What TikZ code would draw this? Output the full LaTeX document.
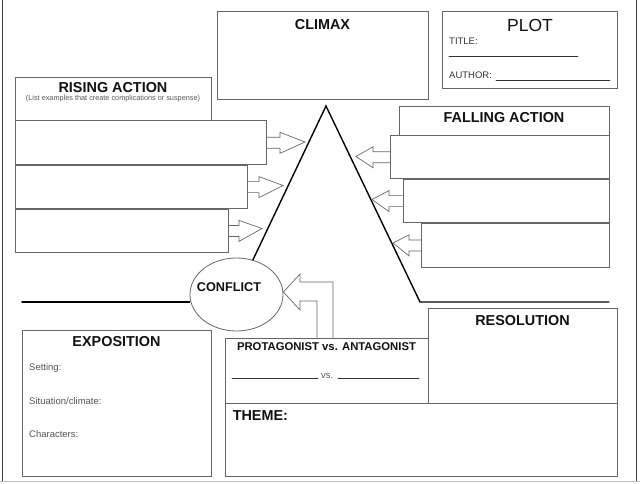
\documentclass[tikz,border=0pt]{standalone}
\usepackage{fontspec}
\setmainfont{Liberation Sans}
\usetikzlibrary{positioning,calc,shapes.geometric}

\definecolor{boxgray}{HTML}{666666}
\definecolor{labgray}{HTML}{555555}
\definecolor{inkblack}{HTML}{111111}

\tikzset{
  box/.style={draw=boxgray, line width=0.8pt, inner sep=0pt},
  hd/.style={font=\bfseries\fontsize{14.4}{16}\selectfont, text=inkblack, inner sep=0pt},
  small/.style={font=\fontsize{9.5}{11}\selectfont, text=labgray, inner sep=0pt},
  plotline/.style={line width=1.4pt, black},
  rule/.style={line width=0.6pt, black!80},
  fat arrow/.style={draw=boxgray, line width=0.7pt, line join=miter, to path={
    let \p1=(\tikztostart), \p2=(\tikztotarget), \n1={sign(\x2-\x1)} in
    (\x1,\y1+5.5pt) -- (\x2-\n1*#1pt,\y1+5.5pt) -- (\x2-\n1*#1pt,\y1+10.5pt) -- (\p2)
    -- (\x2-\n1*#1pt,\y1-10.5pt) -- (\x2-\n1*#1pt,\y1-5.5pt) -- (\x1,\y1-5.5pt)}},
}

\begin{document}
\begin{tikzpicture}[x=1pt, y=-1pt, line cap=round]
  \useasboundingbox (0,0) rectangle (640,483);
  \draw[black!75, line width=0.9pt] (2,0) -- (2,481);
  \draw[black!75, line width=0.9pt] (636,0) -- (636,481);
  \draw[black!25, line width=0.8pt] (0,481.5) -- (640,481.5);

  \node[box, minimum width=211pt, minimum height=88pt] (climax) at (322.5,55) {};
  \node[hd, below=8.5pt of climax.north] (climaxlbl) {CLIMAX};

  \node[box, minimum width=175pt, minimum height=77pt] (plotbox) at (529.5,49.5) {};
  \node[font=\fontsize{17.5}{20}\selectfont, text=inkblack, inner sep=0pt] (plotlbl) at (530,25) {PLOT};
  \node[small, text=black!80, anchor=west] (titlelbl) at (449,41) {TITLE:};
  \node[small, text=black!80, anchor=west] (authorlbl) at (449,75.5) {AUTHOR:};
  \draw[rule] (449,56) -- (578,56);
  \draw[rule] (496,80) -- (610,80);

  \node[box, minimum width=196pt, minimum height=43pt] (rhead) at (113,98.5) {};
  \node[hd, below=6pt of rhead.north] (rheadlbl) {RISING ACTION};
  \node[font=\fontsize{7.3}{8}\selectfont, text=labgray, inner sep=0pt, below=1.5pt of rheadlbl] (rsub)
    {(List examples that create complications or suspense)};
  \node[box, minimum width=251pt, minimum height=44pt, anchor=north west] (r1) at (rhead.south west) {};
  \node[box, minimum width=232pt, minimum height=43pt, anchor=north west] (r2) at (r1.south west) {};
  \node[box, minimum width=213pt, minimum height=43pt, anchor=north west] (r3) at (r2.south west) {};

  \node[box, minimum width=210pt, minimum height=29pt] (fhead) at (504,120.5) {};
  \node[hd, below=7pt of fhead.north] (fheadlbl) {FALLING ACTION};
  \node[box, minimum width=219pt, minimum height=43pt, anchor=north east] (f1) at (fhead.south east) {};
  \node[box, minimum width=206pt, minimum height=43pt, anchor=north east] (f2) at (f1.south east) {};
  \node[box, minimum width=188pt, minimum height=44pt, anchor=north east] (f3) at (f2.south east) {};

  \node[draw=boxgray, line width=0.8pt, ellipse, minimum width=93pt, minimum height=73pt, inner sep=0pt,
    label={[hd, font=\bfseries\fontsize{12.7}{14}\selectfont, xshift=-7.5pt, yshift=7pt]center:CONFLICT}]
    (conflict) at (236.5,294.5) {};

  \coordinate (apex) at (326,106);
  \coordinate (rfoot) at (420,302);
  \coordinate (rend) at (609,302);
  \coordinate (lbase) at (22,302);
  \draw[plotline] (conflict) -- (apex) -- (rfoot) -- (rend);
  \draw[plotline] (lbase) -- (lbase -| conflict.west);

  \coordinate (t1) at (305,142);
  \coordinate (t2) at (283,185.5);
  \coordinate (t3) at (262,228.5);
  \coordinate (s1) at (356,156.5);
  \coordinate (s2) at (372,199.5);
  \coordinate (s3) at (393,243);
  \draw[fat arrow=25] (r1.east) to (t1);
  \draw[fat arrow=24] (r2.east) to (t2);
  \draw[fat arrow=23] (r3.east) to (t3);
  \draw[fat arrow=17] (f1.west) to (s1);
  \draw[fat arrow=17] (f2.west) to (s2);
  \draw[fat arrow=16] (f3.west) to (s3);

  \node[box, minimum width=189pt, minimum height=146pt] (expo) at (116.5,403) {};
  \node[hd, below=7pt of expo.north] (expolbl) {EXPOSITION};
  \node[small, anchor=base west] (setting) at (29,370.7) {Setting:};
  \node[small, anchor=base west] (situation) at (29,404) {Situation/climate:};
  \node[small, anchor=base west] (characters) at (29,437.7) {Characters:};

  \node[box, minimum width=203pt, minimum height=65pt] (prot) at (326.5,370.5) {};
  \node[hd, font=\bfseries\fontsize{11.3}{13}\selectfont, below=5pt of prot.north] (protlbl)
    {PROTAGONIST vs. ANTAGONIST};
  \node[small, font=\fontsize{9.4}{11}\selectfont, anchor=base west] (vslbl) at (321,378.5) {vs.};
  \draw[rule] (232,378.5) -- (318,378.5);
  \draw[rule] (338,378.5) -- (419,378.5);

  \node[box, minimum width=392pt, minimum height=73pt] (theme) at (421,439.5) {};
  \node[hd, below right=8pt and 8pt of theme.north west] (themelbl) {THEME:};

  \node[box, minimum width=189pt, minimum height=95pt] (resol) at (522.5,355.5) {};
  \node[hd, below=8pt of resol.north] (resollbl) {RESOLUTION};

  \draw[draw=boxgray, line width=0.7pt, line join=miter] (prot.north -| 333,0) |- (300,282) -- ++(0,-8)
    -- ([yshift=2.5pt]conflict.east) -- (300,310) -- ++(0,-9) -| (prot.north -| 317,0);
\end{tikzpicture}
\end{document}
